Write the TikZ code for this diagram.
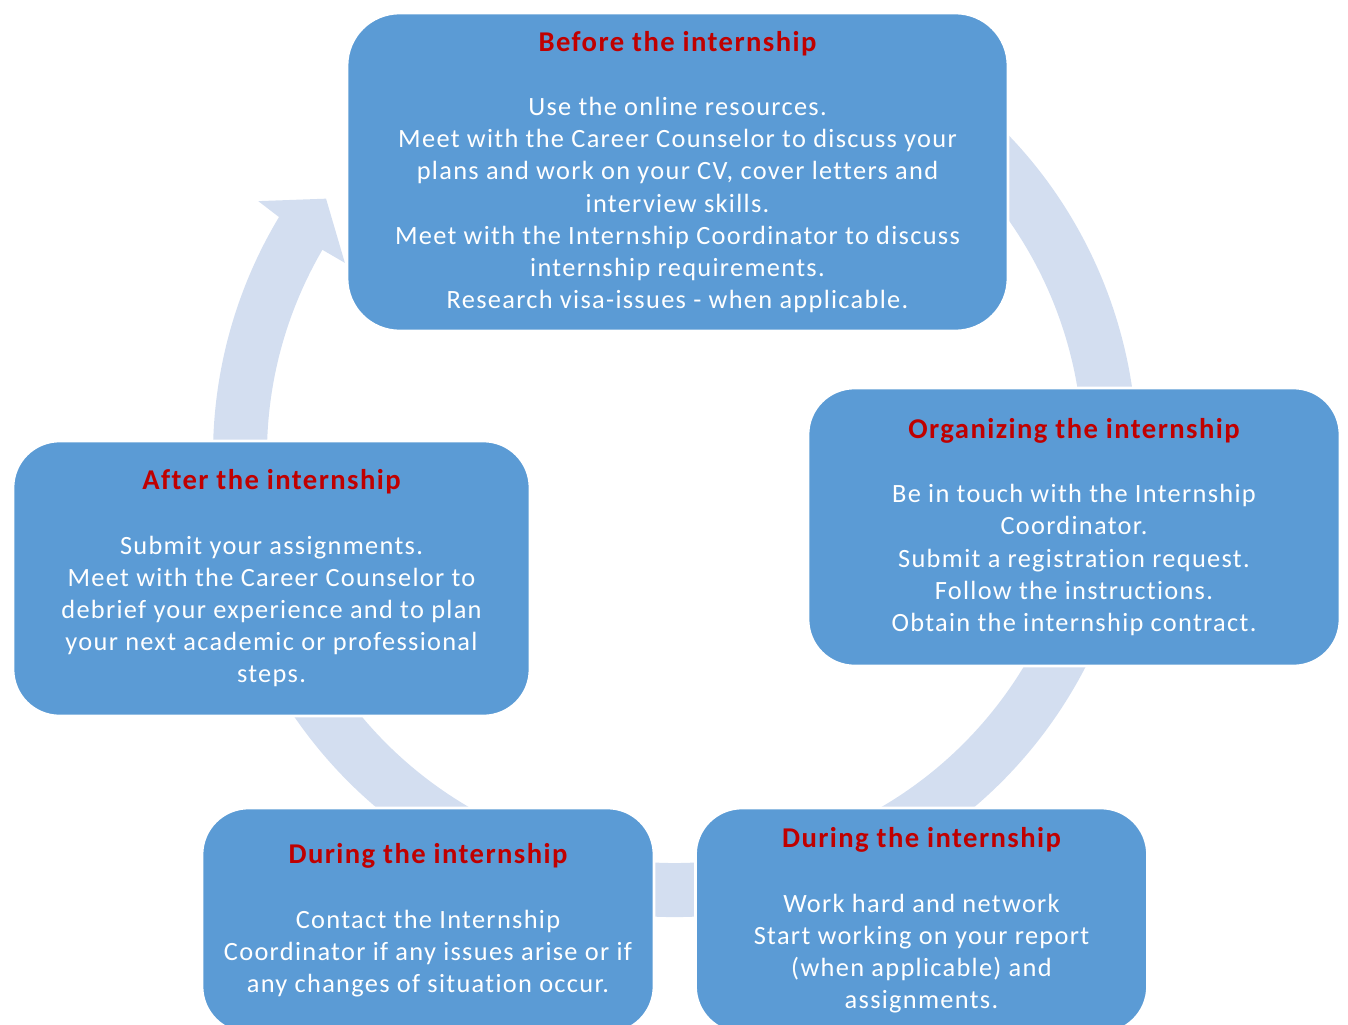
\documentclass[tikz,border=0pt]{standalone}
\usepackage{fontspec}
\setmainfont{Carlito}[LetterSpace=5, Ligatures=NoCommon]
\definecolor{boxblue}{HTML}{5B9BD5}
\definecolor{ringblue}{HTML}{D3DEF0}
\definecolor{titlered}{HTML}{C00000}
\newcommand{\stagetitle}[1]{{\fontsize{16.3}{18.3}\selectfont\bfseries\color{titlered}#1}}
\begin{document}
\begin{tikzpicture}[x=0.02cm, y=0.02cm,
  stage/.style={rectangle, rounded corners=0.93cm, fill=boxblue, draw=white, line width=1.5pt, align=center, text=white, inner sep=0pt, font=\fontsize{15}{18.3}\selectfont},
  ring/.style={fill=ringblue}]
\useasboundingbox (0,0) rectangle (1348,-1024);
\clip (0,0) rectangle (1348,-1024);
% cycle arrow, behind the boxes
\begin{scope}[shift={(675,-455)}]
\fill[ring] (60:462) arc[start angle=60, end angle=-211, radius=462] -- (-211.35:488) -- (-216.3:433) -- (-210.2:382) -- (-210.2:408) arc[start angle=-210.2, end angle=60, radius=408] -- cycle;
\end{scope}
% stages
\node[stage, rounded corners=1.05cm, minimum width=13.22cm, minimum height=6.36cm] (before) at (677.5,-172){\stagetitle{Before the internship}\\[18.3pt]
Use the online resources.\\
Meet with the Career Counselor to discuss your\\
plans and work on your CV, cover letters and\\
interview skills.\\
Meet with the Internship Coordinator to discuss\\
internship requirements.\\
Research visa-issues - when applicable.};
\node[stage, minimum width=10.64cm, minimum height=5.56cm] (organizing) at (1074,-527){\stagetitle{Organizing the internship}\\[18.3pt]
Be in touch with the Internship\\
Coordinator.\\
Submit a registration request.\\
Follow the instructions.\\
Obtain the internship contract.};
\node[stage, minimum width=9.04cm, minimum height=4.5cm] (during1) at (921.5,-920.5){\stagetitle{During the internship}\\[18.3pt]
Work hard and network\\
Start working on your report\\
(when applicable) and\\
assignments.};
\node[stage, minimum width=9.04cm, minimum height=4.5cm] (during2) at (428,-920.5){\stagetitle{During the internship}\\[18.3pt]
Contact the Internship\\
Coordinator if any issues arise or if\\
any changes of situation occur.};
\node[stage, minimum width=10.34cm, minimum height=5.5cm] (after) at (271.5,-578.5){\stagetitle{After the internship}\\[18.3pt]
Submit your assignments.\\
Meet with the Career Counselor to\\
debrief your experience and to plan\\
your next academic or professional\\
steps.};
\end{tikzpicture}
\end{document}
